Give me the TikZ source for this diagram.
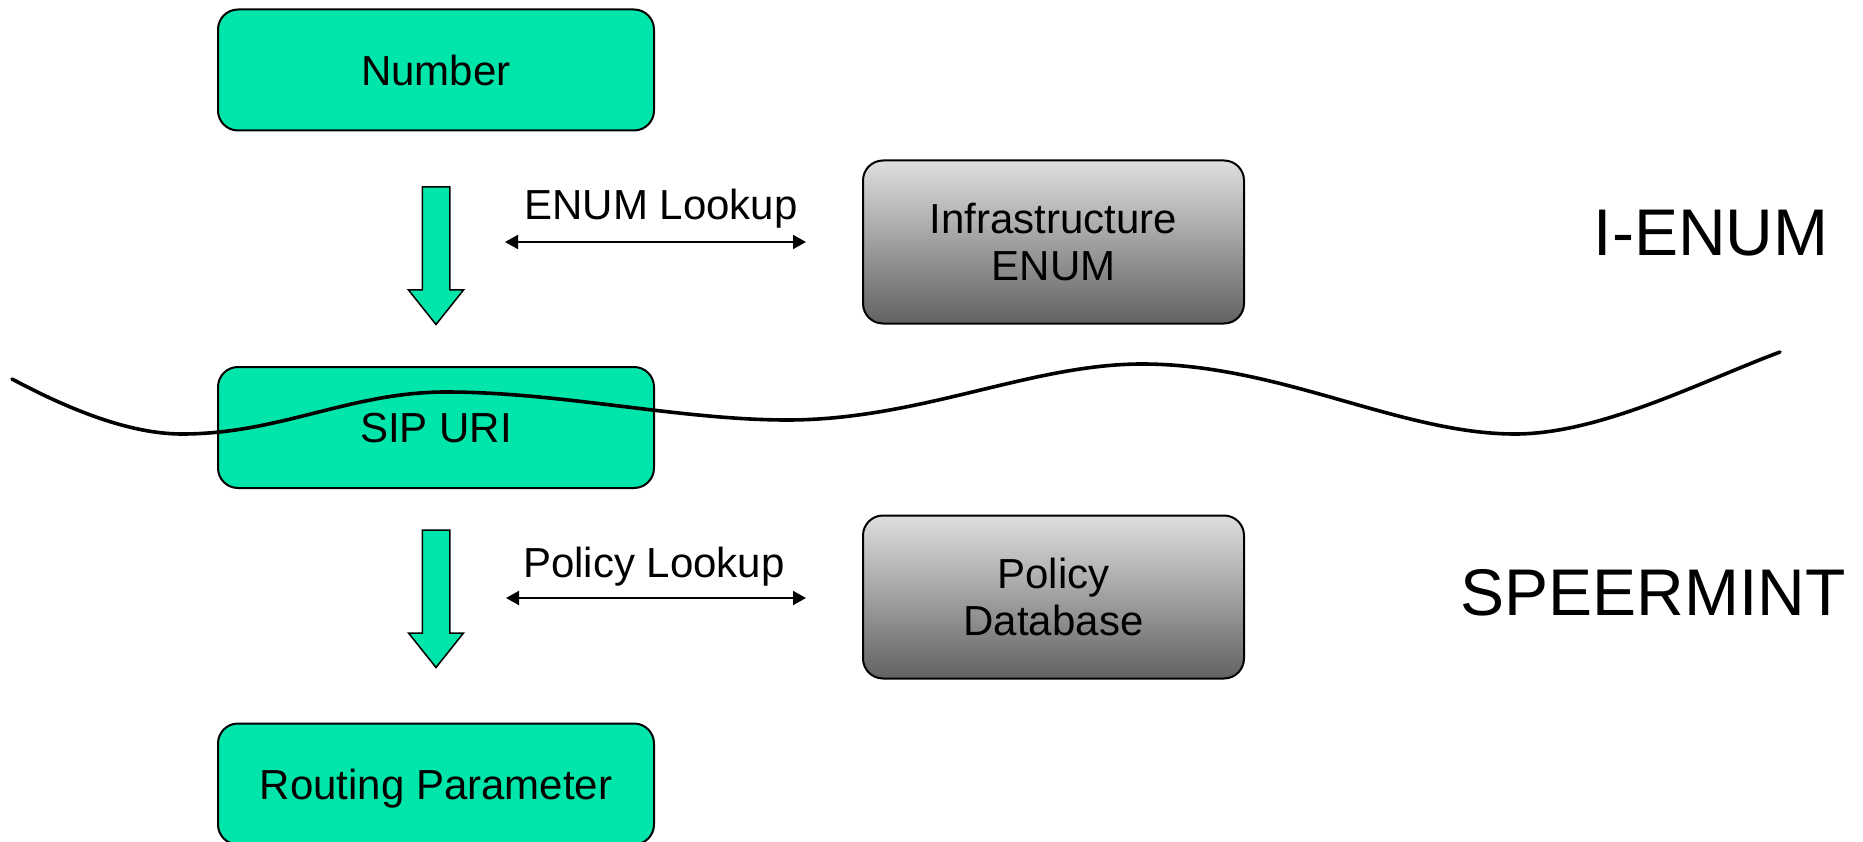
\documentclass[tikz,border=0pt]{standalone}
\usepackage{fontspec}
\setmainfont{Liberation Sans}
\usetikzlibrary{arrows.meta}
\definecolor{boxgreen}{RGB}{0,230,170}
\definecolor{graytop}{RGB}{222,222,222}
\definecolor{graybot}{RGB}{98,98,98}
\tikzset{
  greenbox/.style={draw=black, line width=2pt, fill=boxgreen, rounded corners=20pt,
    minimum width=436pt, minimum height=121pt, inner sep=0pt, text depth=0pt,
    font=\fontsize{42}{47}\selectfont},
  graybox/.style={draw=black, line width=2pt, top color=graytop, bottom color=graybot,
    rounded corners=20pt, minimum width=381pt, minimum height=163pt, inner sep=0pt,
    align=center, font=\fontsize{42}{47}\selectfont},
  lbl/.style={anchor=base, inner sep=0pt, font=\fontsize{42}{47}\selectfont},
  biglbl/.style={anchor=base, inner sep=0pt, font=\fontsize{66}{72}\selectfont},
  lookup/.style={line width=2pt, {Triangle[length=13pt,width=14pt]}-{Triangle[length=13pt,width=14pt]}},
  blockarrow/.style={draw=black, line width=1.5pt, fill=boxgreen, line join=miter},
  wave/.style={line width=3.6pt, line cap=round}
}
\begin{document}
\begin{tikzpicture}[x=1pt,y=-1pt]
\useasboundingbox (0,0) rectangle (1863,842);
\clip (0,0) rectangle (1863,842);

% boxes
\node[greenbox] (number) at (436,70) {Number};
\node[greenbox] (sip) at (436,427.5) {SIP URI};
\node[greenbox] (routing) at (436,784) {Routing Parameter};
\node[graybox] (ienum) at (1053.5,242) {Infrastructure\\ENUM};
\node[graybox] (policy) at (1053.5,597) {Policy\\Database};

% block arrows
\coordinate (ar1) at (436,187);
\coordinate (ar2) at (436,530);
\foreach \a in {ar1,ar2}{
  \draw[blockarrow] (\a) ++(-13.75,0) -- ++(27.5,0) -- ++(0,103) -- ++(13.75,0)
     -- ++(-27.5,34.5) -- ++(-27.5,-34.5) -- ++(13.75,0) -- cycle;
}

% lookup arrows
\coordinate (el) at (505,242);
\coordinate (er) at (806,242);
\coordinate (pl) at (506,598);
\coordinate (pr) at (806,598);
\draw[lookup] (el) -- (er);
\draw[lookup] (pl) -- (pr);
\node[lbl] (enumlbl) at (661,220) {ENUM Lookup};
\node[lbl] (policylbl) at (654,577) {Policy Lookup};

% side labels
\node[biglbl] (ienumlbl) at (1711,256) {I-ENUM};
\node[biglbl] (speer) at (1653,615) {SPEERMINT};

% wave
\draw[wave] (12,379) .. controls (70,410) and (130,434) .. (182,434)
  .. controls (280,434) and (350,392) .. (446,392)
  .. controls (560,392) and (680,420) .. (787,420)
  .. controls (920,420) and (1030,364) .. (1142,364)
  .. controls (1280,364) and (1400,434) .. (1515,434)
  .. controls (1600,434) and (1700,382) .. (1780,352);
\end{tikzpicture}
\end{document}
